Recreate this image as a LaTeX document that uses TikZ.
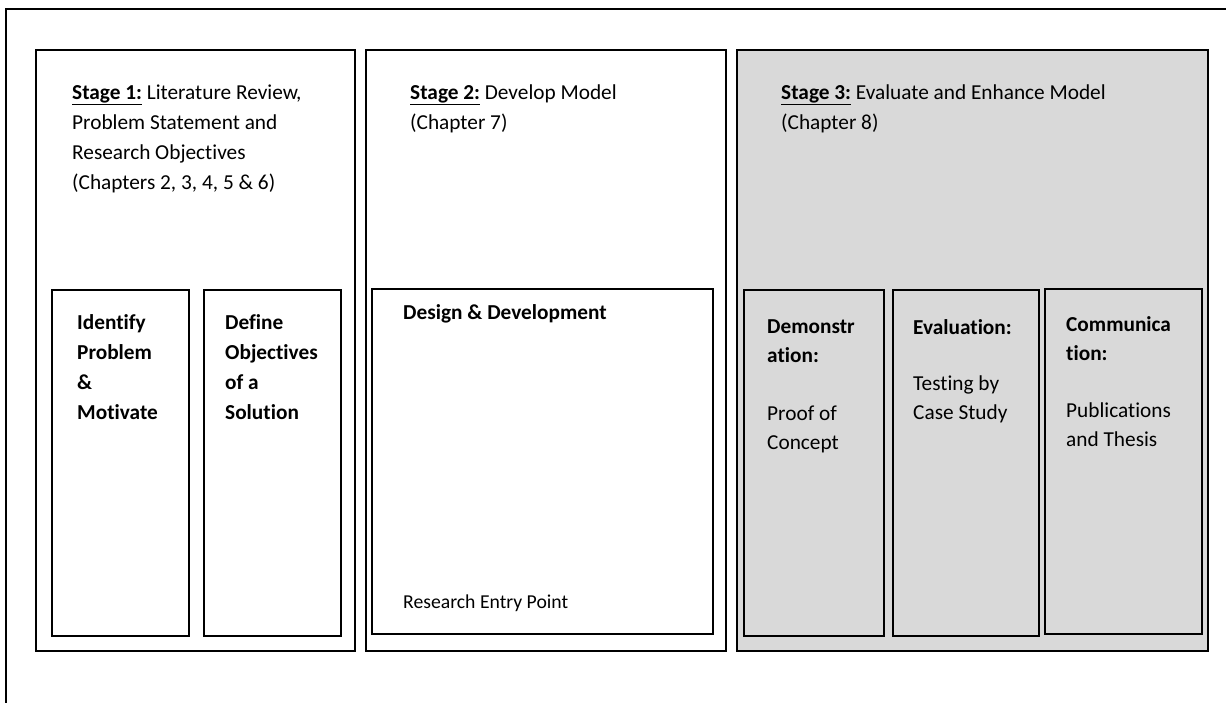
\documentclass[tikz,border=0pt]{standalone}
\usepackage{fontspec}
\setmainfont{Carlito}[Ligatures=NoCommon]
\definecolor{boxgray}{HTML}{D9D9D9}
\tikzset{
  stagebox/.style={draw=black,line width=1.6pt},
  stagetext/.style={anchor=base west,inner sep=0pt,align=left,font=\fontsize{21.3}{30}\selectfont},
  subtext/.style={anchor=base west,inner sep=0pt,align=left,font=\fontsize{21.3}{29}\selectfont},
}
\begin{document}
\begin{tikzpicture}[x=1pt,y=-1pt]
\useasboundingbox (0,0) rectangle (1226,702);
\clip (0,0) rectangle (1226,702);
\draw[line width=2.2pt] (6,9) rectangle (1250,730);
% the three stages
\draw[stagebox] (36,50) rectangle (355,651);
\draw[stagebox] (366,50) rectangle (726,651);
\draw[stagebox,fill=boxgray] (737,50) rectangle (1208,651);
% inner boxes
\draw[stagebox] (52,290) rectangle (189,636);
\draw[stagebox] (204,290) rectangle (341,636);
\draw[stagebox] (372,289) rectangle (713,634);
\draw[stagebox] (744,290) rectangle (884,636);
\draw[stagebox] (893,290) rectangle (1039,636);
\draw[stagebox] (1045,289) rectangle (1202,634);
% texts (anchored at the last line)
\node[stagetext] (st1) at (72,189) {\underline{\textbf{Stage 1:}} Literature Review,\\Problem Statement and\\Research Objectives\\(Chapters 2, 3, 4, 5 \& 6)};
\node[stagetext] (st2) at (410,129) {\underline{\textbf{Stage 2:}} Develop Model\\(Chapter 7)};
\node[stagetext] (st3) at (781,129) {\underline{\textbf{Stage 3:}} Evaluate and Enhance Model\\(Chapter 8)};
\node[stagetext,font=\bfseries\fontsize{21.3}{30}\selectfont] (idprob) at (77,419) {Identify\\Problem\\\&\\Motivate};
\node[stagetext,font=\bfseries\fontsize{21.3}{30}\selectfont] (defobj) at (225,419) {Define\\Objectives\\of a\\Solution};
\node[stagetext,font=\bfseries\fontsize{21.3}{30}\selectfont] (design) at (403,319) {Design \& Development};
\node[stagetext,font=\fontsize{19.7}{30}\selectfont] (entry) at (403,608) {Research Entry Point};
\node[subtext] (demo) at (767,449) {\textbf{Demonstr}\\\textbf{ation:}\\[29pt]Proof of\\Concept};
\node[subtext] (eval) at (913,419) {\textbf{Evaluation:}\\[27pt]Testing by\\Case Study};
\node[subtext] (comm) at (1066,446) {\textbf{Communica}\\\textbf{tion:}\\[28pt]Publications\\and Thesis};
\end{tikzpicture}
\end{document}
